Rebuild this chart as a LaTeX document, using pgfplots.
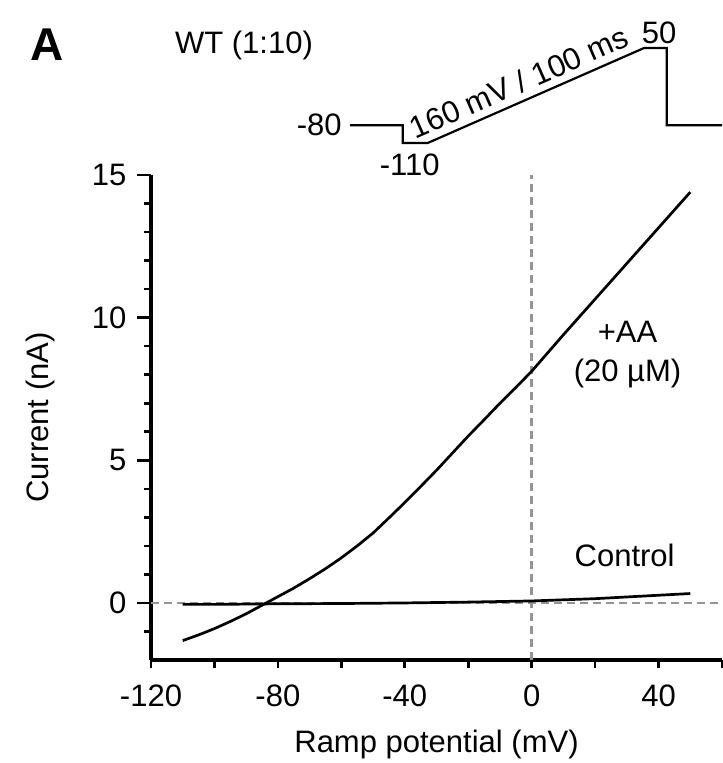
\documentclass[border=0pt]{standalone}
\usepackage{fontspec}
\setmainfont{Liberation Sans}
\usepackage{pgfplots}
\pgfplotsset{compat=1.18}
\begin{document}
\fontsize{15.5}{18.5}\selectfont
\begin{tikzpicture}
\useasboundingbox (0,0) rectangle (361pt,-381.5pt);
\begin{axis}[
  scale only axis, width=285.5pt, height=242.5pt,
  at={(75.5pt,-330pt)}, anchor=south west,
  xmin=-120, xmax=60, ymin=-2, ymax=15,
  axis x line*=bottom, axis y line*=left,
  axis line style={-, line width=1.6pt},
  tick align=outside,
  xtick={-120,-80,-40,0,40},
  minor xtick={-120,-100,-80,-60,-40,-20,0,20,40,60},
  ytick={0,5,10,15},
  minor ytick={-1,1,2,3,4,6,7,8,9,11,12,13,14},
  major tick length=7pt, minor tick length=3.75pt,
  major x tick style={draw=none},
  tick style={line width=1.3pt, black},
  /pgf/number format/assume math mode=true,
  ticklabel style={font=\fontsize{15.5}{18.5}\selectfont},
  xlabel={Ramp potential (mV)},
  ylabel={Current (nA)},
  xlabel style={at={(axis description cs:0.5,-0.175)}, anchor=center},
  ylabel style={at={(axis description cs:-0.194,0.5)}, anchor=center},
  clip=false,
]
\addplot[color=black!42, line width=1.4pt, dash pattern=on 4pt off 2.5pt] coordinates {(-120,0) (60,0)};
\addplot[color=black!42, line width=1.4pt, dash pattern=on 4pt off 2.5pt] coordinates {(0,-2) (0,15)};
% Control
\addplot[black, line width=1.35pt] coordinates {
(-110,-0.05) (-100,-0.05) (-90,-0.04) (-80,-0.03) (-60,-0.02) (-40,0.0)
(-20,0.03) (0,0.07) (10,0.11) (20,0.15) (30,0.21) (40,0.27) (50,0.33)};
% +AA
\addplot[black, line width=1.35pt] coordinates {
(-110,-1.32) (-105,-1.12) (-100,-0.9) (-95,-0.65) (-90,-0.38) (-85,-0.08)
(-80,0.22) (-75,0.52) (-70,0.85) (-65,1.2) (-60,1.58) (-55,2.0) (-50,2.45)
(-45,2.98) (-40,3.52) (-35,4.08) (-30,4.65) (-25,5.25) (-20,5.85) (-15,6.42)
(-10,7.0) (-5,7.55) (0,8.12) (10,9.4) (20,10.65) (30,11.9) (40,13.15) (50,14.4)};
\node at (axis cs:30.2,9.5) {+AA};
\node at (axis cs:30.2,8.05) {(20 µM)};
\node at (axis cs:29.3,1.65) {Control};
\end{axis}
% stimulation protocol
\begin{axis}[
  scale only axis, width=186pt, height=47.5pt,
  at={(175pt,-71.5pt)}, anchor=south west,
  xmin=-24.4, xmax=147.5, ymin=-110, ymax=50,
  hide axis, clip=false,
]
\addplot[black, line width=1.1pt] coordinates {
(-24.4,-80) (0,-80) (0,-110) (11.5,-110) (111.5,50) (122,50) (122,-80) (147.5,-80)};
\node[anchor=east, inner sep=4pt] at (axis cs:-24.4,-80) {-80};
\node at (axis cs:3.2,-146) {-110};
\node at (axis cs:118.4,75.3) {50};
\node[rotate=23.7, anchor=south, inner sep=3.5pt] at (axis cs:57,-36.5) {160 mV / 100 ms};
\end{axis}
\node[font=\fontsize{23}{26}\selectfont\bfseries] at (23.5pt,-22.5pt) {A};
\node at (122pt,-22.5pt) {WT (1:10)};
\end{tikzpicture}
\end{document}
